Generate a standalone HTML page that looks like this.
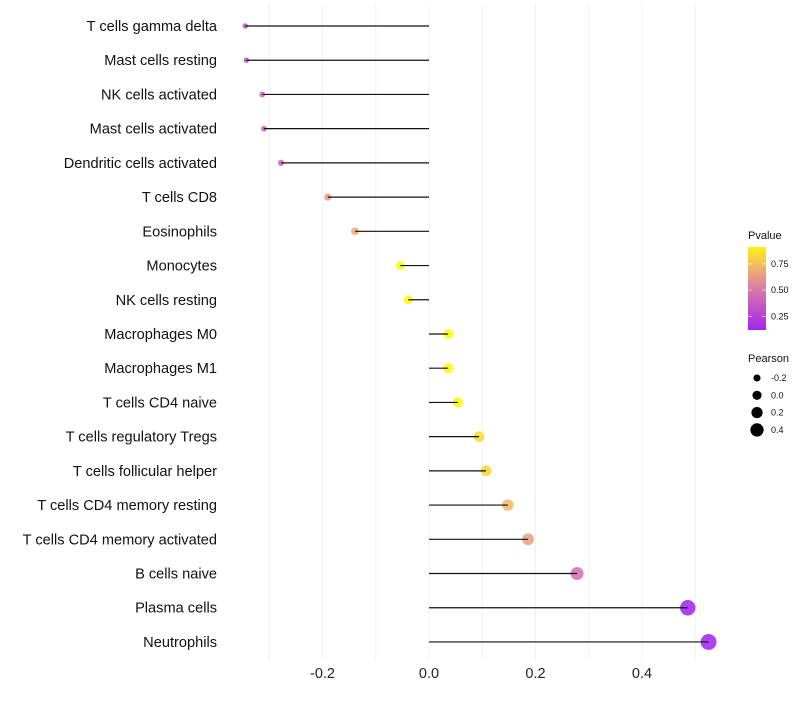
<!DOCTYPE html>
<html><head><meta charset="utf-8"><style>
body{margin:0;background:#fff;font-family:"Liberation Sans",sans-serif}
</style></head><body>
<svg id="chart" width="800" height="700" xmlns="http://www.w3.org/2000/svg"></svg>
<script>
const categories=["T cells gamma delta","Mast cells resting","NK cells activated","Mast cells activated","Dendritic cells activated","T cells CD8","Eosinophils","Monocytes","NK cells resting","Macrophages M0","Macrophages M1","T cells CD4 naive","T cells regulatory  Tregs ","T cells follicular helper","T cells CD4 memory resting","T cells CD4 memory activated","B cells naive","Plasma cells","Neutrophils"];
const pearson=[-0.345,-0.343,-0.313,-0.310,-0.278,-0.19,-0.139,-0.054,-0.039,0.036,0.036,0.054,0.094,0.107,0.148,0.186,0.278,0.486,0.525];
const pvalues=[0.32,0.30,0.38,0.38,0.42,0.62,0.68,0.93,0.93,0.93,0.93,0.92,0.83,0.82,0.72,0.64,0.45,0.08,0.06];
const xTicks=[-0.2,0,0.2,0.4];
const xTickLabels=["-0.2","0.0","0.2","0.4"];
const xGrid=[-0.3,-0.2,-0.1,0,0.1,0.2,0.3,0.4,0.5];
const pLegendTicks=[0.25,0.5,0.75];
const sizeLegend=[-0.2,0,0.2,0.4];

const NS="http://www.w3.org/2000/svg";
const svg=document.getElementById('chart');
function el(t,a,p){const e=document.createElementNS(NS,t);for(const k in a)e.setAttribute(k,a[k]);(p||svg).appendChild(e);return e;}
const x0=429,xs=532.5;
const X=v=>x0+v*xs;
const Y=i=>26+i*34.22;
const R=v=>Math.max(1.5,4.8+6*v);
const stops=[[0.1,[160,32,240]],[0.5,[216,120,168]],[0.7,[240,176,112]],[0.95,[255,255,0]]];
function col(p){if(p<=stops[0][0])return 'rgb('+stops[0][1]+')';
for(let i=1;i<stops.length;i++){if(p<=stops[i][0]){const a=stops[i-1],b=stops[i],t=(p-a[0])/(b[0]-a[0]);
return 'rgb('+a[1].map((c,j)=>Math.round(c+(b[1][j]-c)*t)).join(',')+')';}}
return 'rgb('+stops[stops.length-1][1]+')';}

xGrid.forEach(g=>{const l=el('line',{x1:X(g),x2:X(g),y1:5,y2:660,stroke:'#f0f0f0','stroke-width':1});
});
xTicks.forEach((t,i)=>{const tx=el('text',{x:X(t),y:678,'text-anchor':'middle','font-size':14.5,fill:'#222'});tx.textContent=xTickLabels[i];
});
categories.forEach((c,i)=>{
const y=Y(i);
const t=el('text',{x:217,y:y+5,'text-anchor':'end','font-size':14.6,fill:'#111'});t.textContent=c;

const d=el('circle',{cx:X(pearson[i]),cy:y,r:R(pearson[i]),fill:col(pvalues[i]),'fill-opacity':0.85});

const l=el('line',{x1:X(0),x2:X(pearson[i]),y1:y,y2:y,stroke:'#111','stroke-width':1.2});

});
const lt=el('text',{x:748,y:239,'font-size':11,fill:'#111'});lt.textContent='Pvalue';

const defs=el('defs',{});const lg=el('linearGradient',{id:'pg',x1:0,y1:1,x2:0,y2:0},defs);
const pMin=0.12,pMax=0.91;
for(let k=0;k<=10;k++){const p=pMin+(pMax-pMin)*k/10;el('stop',{offset:k/10,'stop-color':col(p)},lg);}
const bar=el('rect',{x:748,y:247,width:18,height:83,fill:'url(#pg)'});

const PY=p=>330-(p-pMin)/(pMax-pMin)*83;
pLegendTicks.forEach(p=>{el('line',{x1:748,x2:752,y1:PY(p),y2:PY(p),stroke:'#fff','stroke-opacity':0.6});el('line',{x1:762,x2:766,y1:PY(p),y2:PY(p),stroke:'#fff','stroke-opacity':0.6});
const t=el('text',{x:771,y:PY(p)+3,'font-size':9,fill:'#111'});t.textContent=p.toFixed(2);
});
const st=el('text',{x:748,y:362,'font-size':11,fill:'#111'});st.textContent='Pearson';

sizeLegend.forEach((v,i)=>{const y=378+i*17.3;
const c=el('circle',{cx:757,cy:y,r:R(v)*0.85+0.5,fill:'#000'});

const t=el('text',{x:771,y:y+3,'font-size':9,fill:'#111'});t.textContent=v.toFixed(1);
});
</script>
</body></html>
